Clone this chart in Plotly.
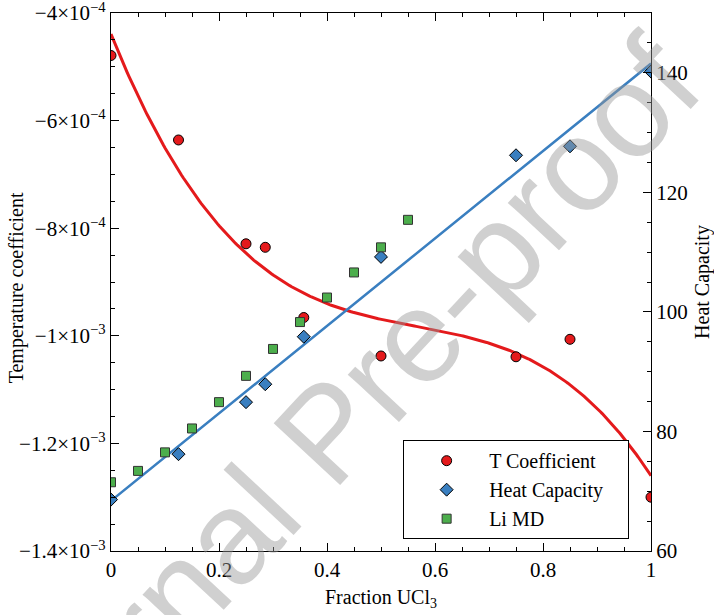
import numpy as np
import plotly.graph_objects as go

# ---- data ----
tc_x = [0.0, 0.125, 0.25, 0.2857, 0.357, 0.5, 0.75, 0.85, 1.0]
tc_y = [-4.79e-4, -6.36e-4, -8.29e-4, -8.355e-4, -9.66e-4, -1.0375e-3, -1.039e-3, -1.0065e-3, -1.30e-3]

hc_x = [0.0, 0.125, 0.25, 0.2857, 0.357, 0.5, 0.75, 0.85, 1.0]
hc_y = [68.6, 76.2, 84.9, 87.9, 95.85, 109.2, 126.2, 127.7, 140.2]

li_x = [0.0, 0.05, 0.10, 0.15, 0.20, 0.25, 0.30, 0.35, 0.40, 0.45, 0.50, 0.55]
li_y = [71.5, 73.4, 76.5, 80.5, 84.9, 89.3, 93.8, 98.3, 102.4, 106.6, 110.8, 115.4]

left_ticks = [-1.4e-3, -1.2e-3, -1.0e-3, -8e-4, -6e-4, -4e-4]
left_ticktext = ["\u22121.4\u00d710<sup>\u22123</sup>", "\u22121.2\u00d710<sup>\u22123</sup>",
                 "\u22121\u00d710<sup>\u22123</sup>", "\u22128\u00d710<sup>\u22124</sup>",
                 "\u22126\u00d710<sup>\u22124</sup>", "\u22124\u00d710<sup>\u22124</sup>"]
x_ticks = [0, 0.2, 0.4, 0.6, 0.8, 1]
x_ticktext = ["0", "0.2", "0.4", "0.6", "0.8", "1"]
right_ticks = [60, 80, 100, 120, 140]

# fits derived from the data
xs = np.linspace(0, 1, 300)
tc_fit = np.polyval(np.polyfit(tc_x, tc_y, 3), xs)
hc_fit = np.polyval(np.polyfit(hc_x, hc_y, 1), xs)

RED = "#e41a1c"
BLUE = "#3a7fc0"
GREEN = "#4cae4c"
FONT = "Liberation Serif"
PAD = "\u00a0" * 4  # widens the legend box a little
TICKFONT = dict(size=21)

fig = go.Figure()
fig.add_trace(go.Scatter(x=xs, y=tc_fit, mode="lines", line=dict(color=RED, width=3),
                         showlegend=False, hoverinfo="skip"))
fig.add_trace(go.Scatter(x=xs, y=hc_fit, mode="lines", line=dict(color=BLUE, width=2.5),
                         yaxis="y2", showlegend=False, hoverinfo="skip"))
fig.add_trace(go.Scatter(x=tc_x, y=tc_y, mode="markers", name="T Coefficient",
                         marker=dict(symbol="circle", size=10, color=RED,
                                     line=dict(color="black", width=1))))
fig.add_trace(go.Scatter(x=hc_x, y=hc_y, mode="markers", name="Heat Capacity" + PAD, yaxis="y2",
                         marker=dict(symbol="diamond", size=10, color=BLUE,
                                     line=dict(color="black", width=1))))
fig.add_trace(go.Scatter(x=li_x, y=li_y, mode="markers", name="Li MD", yaxis="y2",
                         marker=dict(symbol="square", size=9, color=GREEN,
                                     line=dict(color="#333333", width=1))))

eps = 1e-9
fig.update_layout(
    width=714, height=615,
    margin=dict(l=111, r=63, t=13, b=64, autoexpand=False),
    paper_bgcolor="white", plot_bgcolor="white",
    font=dict(family=FONT, size=20, color="black"),
    xaxis=dict(range=[0, 1], tickvals=x_ticks, ticktext=x_ticktext, automargin=False,
               tickfont=TICKFONT,
               ticks="inside", ticklen=8, tickwidth=1, tickcolor="black",
               showline=True, linecolor="black", linewidth=1.2, mirror="ticks",
               showgrid=False, zeroline=False, ticklabeloverflow="allow",
               minor=dict(dtick=0.05, ticks="inside", ticklen=4, tickcolor="black", showgrid=False),
               title=dict(text="Fraction UCl<sub>3</sub>", font=dict(size=20), standoff=8)),
    yaxis=dict(range=[-1.4e-3 - eps, -4e-4 + eps], tickvals=left_ticks, ticktext=left_ticktext,
               automargin=False, ticklabeloverflow="allow", tickfont=TICKFONT,
               ticks="inside", ticklen=8, tickwidth=1, tickcolor="black",
               showline=True, linecolor="black", linewidth=1.2,
               showgrid=False, zeroline=False,
               minor=dict(dtick=5e-5, tick0=0, ticks="inside", ticklen=4, tickcolor="black", showgrid=False)),
    yaxis2=dict(range=[60, 150], tickvals=right_ticks, overlaying="y", side="right",
                automargin=False, ticklabeloverflow="allow", tickfont=TICKFONT,
                ticks="inside", ticklen=8, tickwidth=1, tickcolor="black",
                showline=True, linecolor="black", linewidth=1.2,
                showgrid=False, zeroline=False,
                minor=dict(dtick=5, ticks="inside", ticklen=4, tickcolor="black", showgrid=False),
                title=dict(text="Heat Capacity", font=dict(size=20), standoff=14)),
    legend=dict(x=0.541, y=0.206, xanchor="left", yanchor="top",
                bgcolor="white", bordercolor="black", borderwidth=1,
                font=dict(size=20), itemwidth=75, tracegroupgap=0),
    annotations=[
        dict(text="Temperature coefficient", xref="paper", yref="paper",
             x=-0.176, y=0.49, xanchor="center", yanchor="middle",
             showarrow=False, textangle=-90, font=dict(size=20)),
        dict(text="Journal Pre-proof", xref="paper", yref="paper",
             x=0.40, y=0.22, xanchor="center", yanchor="middle",
             showarrow=False, textangle=-47,
             font=dict(family="Liberation Sans", size=132,
                       color="rgba(150,150,150,0.45)")),
    ],
)

fig.write_html("out.html")
